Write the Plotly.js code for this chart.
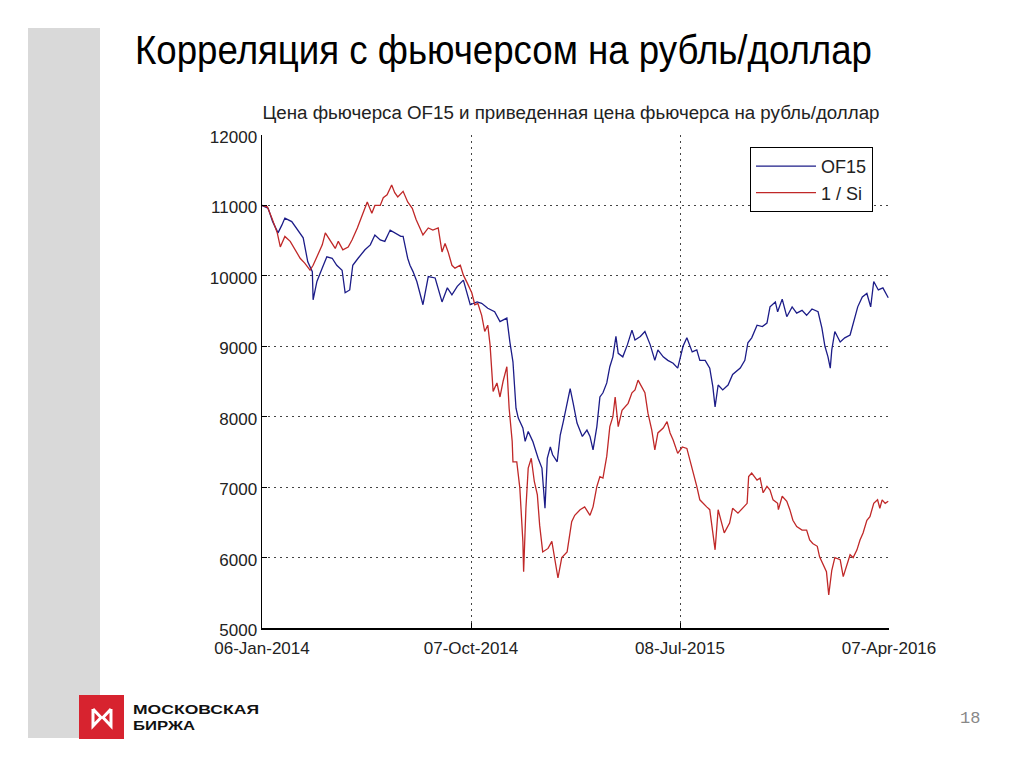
<!DOCTYPE html>
<html>
<head>
<meta charset="utf-8">
<script src="https://cdn.plot.ly/plotly-3.0.1.min.js"></script>
<style>
html,body{margin:0;padding:0;background:#fff;}
#chart{width:1024px;height:767px;}
</style>
</head>
<body>
<div id="chart"></div>
<script>
// x values are calendar days counted from 06-Jan-2014
const tickDays = [0, 274, 548, 822];
const tickLabels = ['06-Jan-2014', '07-Oct-2014', '08-Jul-2015', '07-Apr-2016'];
const yTicks = [5000, 6000, 7000, 8000, 9000, 10000, 11000, 12000];

const of15Days = [0,8,14,21,26,30,39,47,54,60,66,67,72,79,85,92,98,105,109,115,119,126,135,142,148,155,161,168,174,182,185,191,194,198,203,211,218,227,236,243,249,256,264,273,282,288,296,305,312,321,325,329,333,336,342,345,349,355,362,367,371,374,378,381,387,391,395,400,404,408,413,420,426,430,434,439,443,447,452,456,460,464,467,473,479,485,489,496,502,509,515,519,526,532,539,545,552,557,564,570,574,581,587,591,594,598,604,611,617,627,633,637,642,649,656,662,666,673,676,682,688,695,701,708,714,721,729,734,738,742,745,747,751,758,764,771,775,781,787,793,798,802,808,814,821];
const of15Vals = [11000,10960,10770,10610,10720,10820,10770,10650,10540,10200,10060,9660,9920,10110,10270,10250,10150,10080,9760,9800,10150,10250,10370,10440,10580,10510,10490,10650,10610,10560,10560,10250,10150,10060,9920,9590,9990,9970,9630,9830,9730,9850,9940,9590,9630,9610,9540,9490,9350,9400,9060,8780,8120,7980,7840,7650,7790,7650,7410,7270,6700,7410,7570,7460,7360,7740,7930,8210,8400,8190,7910,7720,7810,7720,7530,7860,8280,8340,8480,8710,8850,9140,8900,8850,9020,9230,9090,9140,9210,9020,8800,8950,8850,8800,8760,8690,9000,9120,8920,8950,8800,8800,8690,8430,8140,8450,8380,8450,8600,8690,8800,9050,9120,9300,9280,9330,9560,9630,9490,9670,9420,9560,9470,9510,9440,9530,9490,9260,9000,8850,8690,8950,9210,9060,9120,9160,9330,9560,9700,9750,9560,9920,9800,9830,9690];

const siDays = [0,7,13,20,24,30,37,43,50,56,63,67,73,79,83,89,96,100,106,113,118,125,131,138,144,148,155,159,164,170,174,178,185,191,197,202,207,211,218,224,231,236,240,244,249,253,260,264,269,275,279,283,288,292,296,299,303,308,312,316,321,324,328,329,334,338,342,343,346,349,353,357,361,364,368,375,380,384,388,393,400,406,410,417,423,430,434,439,443,447,452,456,460,463,467,472,476,480,485,489,493,498,502,506,511,515,519,526,531,535,539,545,551,557,561,565,570,574,578,583,587,591,594,598,603,606,613,617,624,631,636,638,642,649,653,657,662,666,670,676,677,682,688,692,696,701,708,714,718,722,728,731,735,740,743,747,751,758,762,767,771,775,780,784,788,793,797,802,807,810,813,817,821];
const siVals = [11000,10980,10820,10610,10410,10560,10490,10370,10250,10180,10080,10150,10300,10440,10610,10510,10390,10490,10370,10410,10510,10680,10860,11050,10890,11000,11000,11110,11150,11290,11180,11120,11200,11050,10960,10800,10680,10580,10680,10650,10680,10340,10460,10340,10150,10110,10150,10010,9900,9760,9590,9610,9440,9210,9300,9020,8360,8480,8280,8500,8710,8120,7650,7360,7360,6990,6230,5800,6700,7270,7410,7080,6890,6460,6080,6130,6230,5940,5710,6000,6080,6510,6600,6680,6720,6600,6720,7010,7150,7130,7440,7860,8000,8280,7860,8090,8140,8190,8340,8380,8520,8430,8340,8050,7810,7530,7770,7840,7930,7770,7670,7480,7570,7550,7390,7240,7010,6820,6770,6720,6680,6390,6110,6680,6490,6350,6490,6700,6630,6720,6770,7150,7200,7100,7130,6920,7010,6960,6820,6770,6680,6870,6800,6680,6530,6440,6390,6390,6250,6200,6160,6010,5920,5800,5470,5820,6000,5970,5730,5920,6040,6000,6110,6250,6350,6530,6580,6770,6820,6700,6820,6770,6800];

const seriesNames = ['OF15', '1 / Si'];
const slideTitle = 'Корреляция с фьючерсом на рубль/доллар';
const chartTitle = 'Цена фьючерса OF15 и приведенная цена фьючерса на рубль/доллар';
const logoLines = ['МОСКОВСКАЯ', 'БИРЖА'];
const pageNumber = '18';

// plot area in page pixels
const L = 262, R = 889, T = 135, B = 628;
const px = x => (x - L) / (R - L);
const py = y => (B - y) / (B - T);

const traces = [
  {x: of15Days, y: of15Vals, name: seriesNames[0], type: 'scatter', mode: 'lines',
   line: {color: '#1c1c88', width: 1.3}},
  {x: siDays, y: siVals, name: seriesNames[1], type: 'scatter', mode: 'lines',
   line: {color: '#c02828', width: 1.3}}
];

function logoPath() {
  const pts = [[93,709],[101,717.5],[93,726],[93,709]];
  const pts2 = [[111,709],[103,717.5],[111,726],[111,709]];
  const f = p => p.map((q,i)=> (i?'L':'M') + px(q[0]).toFixed(5) + ',' + py(q[1]).toFixed(5)).join(' ');
  return f(pts) + ' ' + f(pts2);
}

const baseFont = '"Liberation Sans", Arial, sans-serif';

const layout = {
  width: 1024, height: 767,
  margin: {l: L, r: 1024 - R, t: T, b: 767 - B},
  paper_bgcolor: '#ffffff', plot_bgcolor: '#ffffff',
  font: {family: baseFont, color: '#000', size: 18},
  title: {text: chartTitle, x: px(571), xref: 'paper', xanchor: 'center',
          y: 1 - 113/767, yref: 'container', yanchor: 'middle',
          font: {size: 18, color: '#222', family: baseFont}},
  showlegend: true,
  legend: {x: px(750), y: py(147), xanchor: 'left', yanchor: 'top',
           bgcolor: '#fff', bordercolor: '#000', borderwidth: 1,
           itemwidth: 60, font: {size: 18, color: '#222'}},
  xaxis: {range: [0, 822], tickvals: tickDays, ticktext: tickLabels,
          showgrid: true, gridcolor: '#444', griddash: '2px,4px', gridwidth: 1,
          zeroline: false, showline: true, linecolor: '#000', linewidth: 1.5,
          ticks: 'inside', ticklen: 5, tickcolor: '#000', ticklabelstandoff: 4,
          tickfont: {size: 17, color: '#222'}},
  yaxis: {range: [5000, 12000], tickvals: yTicks, ticktext: yTicks.map(String),
          showgrid: true, gridcolor: '#444', griddash: '2px,4px', gridwidth: 1,
          zeroline: false, showline: true, linecolor: '#000', linewidth: 1.5,
          ticks: 'inside', ticklen: 5, tickcolor: '#000', ticklabelshift: 2,
          tickfont: {size: 17, color: '#222'}},
  shapes: [
    {type: 'rect', xref: 'paper', yref: 'paper', x0: px(28), x1: px(100), y0: py(738), y1: py(28),
     fillcolor: '#d9d9d9', line: {width: 0}, layer: 'below'},
    {type: 'rect', xref: 'paper', yref: 'paper', x0: px(79), x1: px(124), y0: py(739), y1: py(695),
     fillcolor: '#d7232f', line: {width: 0}},
    {type: 'path', xref: 'paper', yref: 'paper', path: logoPath(),
     line: {color: '#ffffff', width: 3}}
  ],
  annotations: [
    {text: slideTitle, xref: 'paper', yref: 'paper', x: px(133), y: py(50),
     xanchor: 'left', yanchor: 'middle', align: 'left', showarrow: false,
     font: {family: baseFont, size: 40, color: '#000'}},
    {text: logoLines[0], xref: 'paper', yref: 'paper', x: px(132), y: py(709),
     xanchor: 'left', yanchor: 'middle', align: 'left', showarrow: false, borderpad: 0,
     font: {family: baseFont, size: 13, color: '#111', weight: 'bold'}},
    {text: logoLines[1], xref: 'paper', yref: 'paper', x: px(132), y: py(725),
     xanchor: 'left', yanchor: 'middle', align: 'left', showarrow: false, borderpad: 0,
     font: {family: baseFont, size: 13, color: '#111', weight: 'bold'}},
    {text: pageNumber, xref: 'paper', yref: 'paper', x: px(970), y: py(718),
     xanchor: 'center', yanchor: 'middle', showarrow: false,
     font: {family: '"Liberation Mono", monospace', size: 17, color: '#888'}}
  ]
};

// squeeze or stretch a drawn text to a target width, keeping its left edge or centre
function fitText(el, width, keep) {
  const b0 = el.getBBox();
  el.setAttribute('textLength', width);
  el.setAttribute('lengthAdjust', 'spacingAndGlyphs');
  const b1 = el.getBBox();
  let dx = 0;
  if (keep === 'left') dx = b0.x - b1.x;
  else dx = (b0.x + b0.width / 2) - (b1.x + b1.width / 2);
  if (Math.abs(dx) > 0.5) el.setAttribute('x', (parseFloat(el.getAttribute('x') || 0) + dx));
}

Plotly.newPlot('chart', traces, layout, {staticPlot: true, displayModeBar: false}).then(() => {
  document.querySelectorAll('text').forEach(el => {
    const t = el.textContent;
    if (t === slideTitle) fitText(el, 737, 'left');
    else if (t === chartTitle) fitText(el, 617, 'center');
    else if (t === logoLines[0]) fitText(el, 126, 'left');
    else if (t === logoLines[1]) fitText(el, 62, 'left');
  });
});
</script>
</body>
</html>
